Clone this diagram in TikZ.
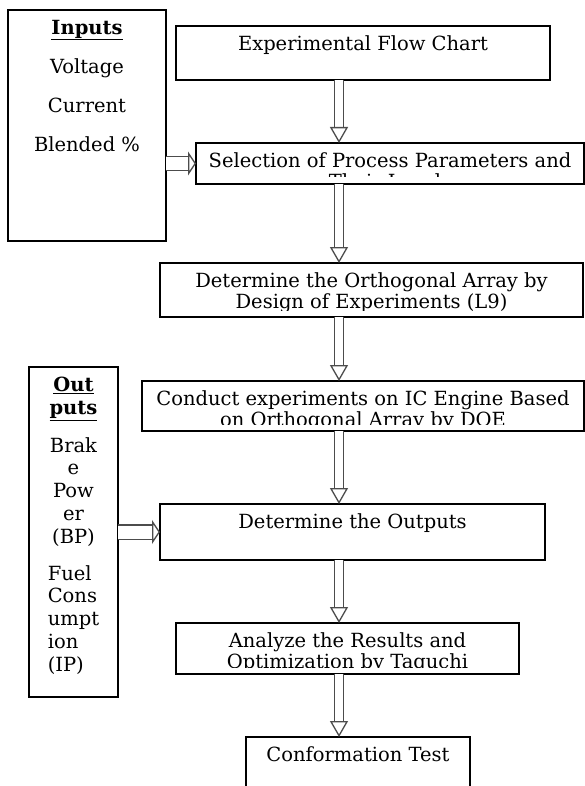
\documentclass[tikz,border=0pt]{standalone}
\usepackage{fontspec}
\setmainfont{DejaVu Serif}
\usetikzlibrary{positioning, arrows.meta}

\tikzset{
  flowbox/.style={draw, line width=1.3pt, inner sep=0pt, outer sep=0pt},
  textspread/.style={},
  boxtext/.style={draw=none, minimum width=0pt, minimum height=0pt, inner sep=0pt,
      font=\fontsize{19.5}{21}\selectfont, align=center, anchor=north, textspread},
  toptext/.style={path picture={
      \clip ([yshift=7pt]path picture bounding box.south west) rectangle (path picture bounding box.north east);
      \node[boxtext] at ([yshift=-10pt]path picture bounding box.north) {#1};}},
  blockarrow/.style={draw=black!70, line width=1.3pt, double=white, double distance=8pt,
      -{Triangle[open, length=16pt, width=18pt, line width=1.3pt]}},
  sidearrow/.style={draw=black!70, line width=1.3pt, double=white, double distance=13pt,
      -{Triangle[open, length=8pt, width=24pt, line width=1.3pt]}}
}

\begin{document}
\begin{tikzpicture}[x=1pt, y=-1pt]
\useasboundingbox (0,0) rectangle (585,786);
\clip (0,0) rectangle (585,786);

\node[flowbox, minimum width=374pt, minimum height=54pt,
      toptext={Experimental Flow Chart}] (chart) at (363,53) {};
\node[flowbox, minimum width=388pt, minimum height=41pt, below=63pt of chart, xshift=27pt,
      toptext={Selection of Process Parameters and\\Their Levels}] (params) {};
\node[flowbox, minimum width=423pt, minimum height=54pt, below=79pt of params, xshift=-18.5pt,
      toptext={Determine the Orthogonal Array by\\Design of Experiments (L9)}] (array) {};
\node[flowbox, minimum width=442pt, minimum height=50pt, below=64pt of array, xshift=-8.5pt,
      toptext={Conduct experiments on IC Engine Based\\on Orthogonal Array by DOE}] (engine) {};
\node[flowbox, minimum width=385pt, minimum height=56pt, below=73pt of engine, xshift=-10.5pt,
      toptext={Determine the Outputs}] (outputs) {};
\node[flowbox, minimum width=343pt, minimum height=51pt, below=63pt of outputs, xshift=-5pt,
      toptext={Analyze the Results and\\Optimization by Taguchi}] (taguchi) {};
\node[flowbox, minimum width=224pt, minimum height=60pt, below=63pt of taguchi, xshift=10.5pt,
      toptext={Conformation Test}] (confirm) {};

% input and output lists
\node[flowbox, minimum width=158pt, minimum height=231pt, anchor=north east,
      toptext={\underline{\textbf{Inputs}}\\[18pt]Voltage\\[18pt]Current\\[18pt]Blended \%}]
      (inputs) at ([xshift=-10pt, yshift=16pt]chart.north west) {};
\node[flowbox, minimum width=89pt, minimum height=330pt, left=42pt of outputs,
      textspread/.style={font=\fontsize{19.5}{22.8}\selectfont},
      toptext={\underline{\textbf{Out}}\\\underline{\textbf{puts}}\\[15pt]Brak\\e\\Pow\\er\\(BP)\\[14pt]
        \begin{tabular}[t]{@{}l@{}}Fuel\\Cons\\umpt\\ion\\(IP)\end{tabular}}] (outs) {};

\coordinate (spine) at (339,0);

\draw[blockarrow] (chart.south -| spine)   -- (params.north -| spine);
\draw[blockarrow] (params.south -| spine)  -- (array.north -| spine);
\draw[blockarrow] (array.south -| spine)   -- (engine.north -| spine);
\draw[blockarrow] (engine.south -| spine)  -- (outputs.north -| spine);
\draw[blockarrow] (outputs.south -| spine) -- (taguchi.north -| spine);
\draw[blockarrow] (taguchi.south -| spine) -- (confirm.north -| spine);

\draw[sidearrow] (inputs.east |- params.west) -- (params.west);
\draw[sidearrow] (outs.east) -- (outputs.west);
\end{tikzpicture}
\end{document}
